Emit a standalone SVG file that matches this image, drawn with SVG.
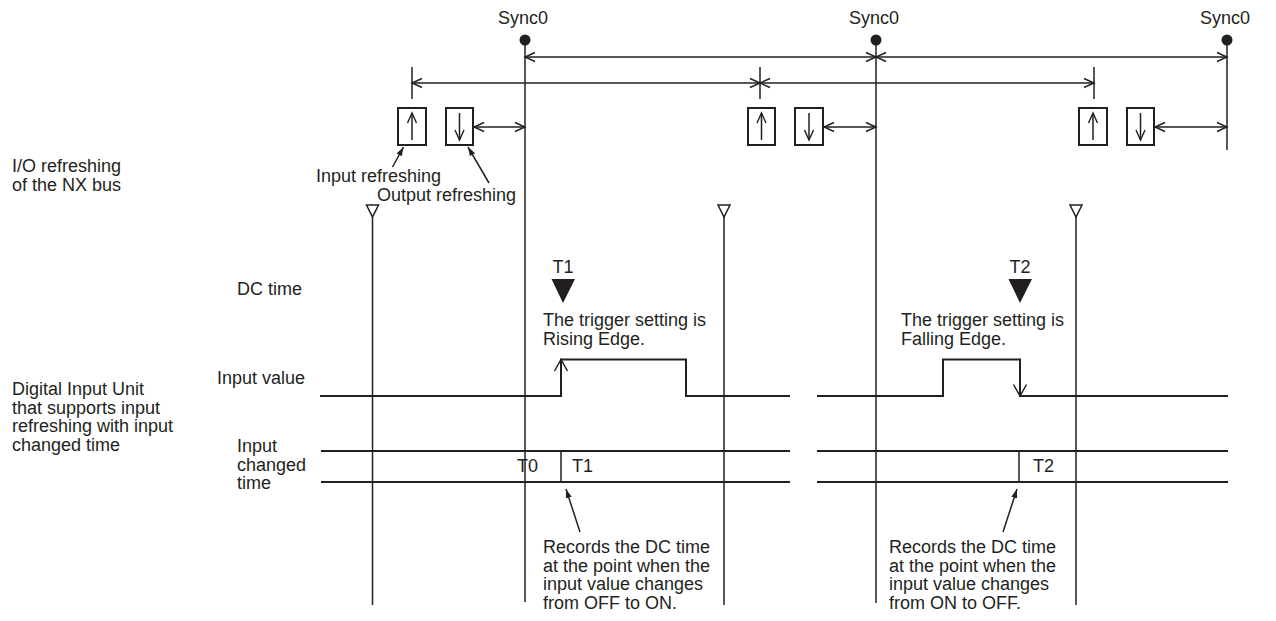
<svg xmlns="http://www.w3.org/2000/svg" width="1276" height="621" viewBox="0 0 1276 621">
<style>
text{font-family:"Liberation Sans",Arial,sans-serif;font-size:18px;fill:#231f20}
.ln{stroke:#231f20;stroke-width:1.5;fill:none}
.wv{stroke:#231f20;stroke-width:2;fill:none}
.bx{stroke:#231f20;stroke-width:2;fill:#fff}
.tri{stroke:#231f20;stroke-width:1.5;fill:#fff}
.mid{text-anchor:middle}
</style>
<defs>
<marker id="oa" viewBox="-1 -6 13 12" refX="10" refY="0" markerWidth="13" markerHeight="12" markerUnits="userSpaceOnUse" orient="auto-start-reverse">
<path d="M0,-4.5 L10,0 L0,4.5" fill="none" stroke="#231f20" stroke-width="1.4"/>
</marker>
<marker id="fa" viewBox="0 -4 10 8" refX="9" refY="0" markerWidth="10" markerHeight="8" markerUnits="userSpaceOnUse" orient="auto">
<path d="M0,-3 L9,0 L0,3 Z" fill="#231f20"/>
</marker>
</defs>
<rect width="1276" height="621" fill="#fff"/>

<g id="row-labels">
<text x="12" y="172">I/O refreshing</text>
<text x="12" y="191">of the NX bus</text>
<text x="237" y="295">DC time</text>
<text x="217" y="384">Input value</text>
<text x="12" y="395">Digital Input Unit</text>
<text x="12" y="413.5">that supports input</text>
<text x="12" y="432">refreshing with input</text>
<text x="12" y="450.5">changed time</text>
<text x="237" y="452">Input</text>
<text x="237" y="470.5">changed</text>
<text x="237" y="489">time</text>
</g>

<g id="sync0-1">
<text class="mid" x="523" y="24">Sync0</text>
<circle cx="525" cy="40" r="5.5" fill="#231f20"/>
<line class="ln" x1="525" y1="40" x2="525" y2="602"/>
</g>
<g id="sync0-2">
<text class="mid" x="874" y="24">Sync0</text>
<circle cx="876" cy="40" r="5.5" fill="#231f20"/>
<line class="ln" x1="876" y1="40" x2="876" y2="603"/>
</g>
<g id="sync0-3">
<text class="mid" x="1225" y="24">Sync0</text>
<circle cx="1227" cy="40" r="5.5" fill="#231f20"/>
<line class="ln" x1="1227" y1="40" x2="1227" y2="150"/>
</g>

<g id="ticks">
<line class="ln" x1="412" y1="67" x2="412" y2="99"/>
<line class="ln" x1="760" y1="67" x2="760" y2="99"/>
<line class="ln" x1="1094" y1="67" x2="1094" y2="99"/>
</g>

<g id="refresh-1">
<rect class="bx" x="398" y="108" width="28" height="37"/>
<line class="ln" x1="412" y1="140" x2="412" y2="113" marker-end="url(#oa)"/>
<rect class="bx" x="446" y="108" width="27" height="37"/>
<line class="ln" x1="459.5" y1="113" x2="459.5" y2="140" marker-end="url(#oa)"/>
</g>
<g id="refresh-2">
<rect class="bx" x="748" y="108" width="27" height="37"/>
<line class="ln" x1="761.5" y1="140" x2="761.5" y2="113" marker-end="url(#oa)"/>
<rect class="bx" x="795" y="108" width="28" height="37"/>
<line class="ln" x1="809" y1="113" x2="809" y2="140" marker-end="url(#oa)"/>
</g>
<g id="refresh-3">
<rect class="bx" x="1079" y="108" width="28" height="37"/>
<line class="ln" x1="1093" y1="140" x2="1093" y2="113" marker-end="url(#oa)"/>
<rect class="bx" x="1127" y="108" width="27" height="37"/>
<line class="ln" x1="1140.5" y1="113" x2="1140.5" y2="140" marker-end="url(#oa)"/>
</g>

<g id="refresh-labels">
<text x="316" y="182">Input refreshing</text>
<text x="377" y="201">Output refreshing</text>
</g>

<g id="dc-markers">
<polygon class="tri" points="366.5,205 378.5,205 372.5,217"/>
<line class="ln" x1="372.5" y1="217" x2="372.5" y2="605"/>
<polygon class="tri" points="718,205 730,205 724,217"/>
<line class="ln" x1="724" y1="217" x2="724" y2="605"/>
<polygon class="tri" points="1070,205 1082,205 1076,217"/>
<line class="ln" x1="1076" y1="217" x2="1076" y2="605"/>
</g>

<g id="trigger-1">
<text class="mid" x="563" y="273">T1</text>
<polygon points="551.5,279 575,279 563,303" fill="#231f20"/>
<text x="543" y="326">The trigger setting is</text>
<text x="543" y="345">Rising Edge.</text>
</g>
<g id="trigger-2">
<text class="mid" x="1020" y="273">T2</text>
<polygon points="1008.5,279 1032,279 1020,303" fill="#231f20"/>
<text x="901" y="326">The trigger setting is</text>
<text x="901" y="345">Falling Edge.</text>
</g>

<g id="input-value">
<path class="wv" d="M320,396 H561 V359.5 H686 V396 H790"/>
<path class="wv" d="M817,396 H943 V359.5 H1020 V396 H1228"/>
<path class="ln" d="M554.5,371 L561,359.5 L567.5,371"/>
<path class="ln" d="M1013.5,384.5 L1020,396 L1026.5,384.5"/>
</g>

<g id="input-changed-time">
<line class="wv" x1="321" y1="451" x2="790" y2="451"/>
<line class="wv" x1="321" y1="482" x2="790" y2="482"/>
<line class="wv" x1="817" y1="451" x2="1228" y2="451"/>
<line class="wv" x1="817" y1="482" x2="1228" y2="482"/>
<line class="ln" x1="561" y1="451" x2="561" y2="482"/>
<line class="ln" x1="1019" y1="451" x2="1019" y2="482"/>
<text x="517" y="472">T0</text>
<text x="572" y="472">T1</text>
<text x="1033" y="472">T2</text>
</g>

<g id="note-1">
<text x="543" y="553">Records the DC time</text>
<text x="543" y="571.5">at the point when the</text>
<text x="543" y="590">input value changes</text>
<text x="543" y="608.5">from OFF to ON.</text>
</g>
<g id="note-2">
<text x="889" y="553">Records the DC time</text>
<text x="889" y="571.5">at the point when the</text>
<text x="889" y="590">input value changes</text>
<text x="889" y="608.5">from ON to OFF.</text>
</g>

<g id="connectors">
<line class="ln" x1="525" y1="57" x2="876" y2="57" marker-start="url(#oa)" marker-end="url(#oa)"/>
<line class="ln" x1="876" y1="57" x2="1227" y2="57" marker-start="url(#oa)" marker-end="url(#oa)"/>
<line class="ln" x1="412" y1="83" x2="760" y2="83" marker-start="url(#oa)" marker-end="url(#oa)"/>
<line class="ln" x1="760" y1="83" x2="1094" y2="83" marker-start="url(#oa)" marker-end="url(#oa)"/>
<line class="ln" x1="474" y1="127" x2="525" y2="127" marker-start="url(#oa)" marker-end="url(#oa)"/>
<line class="ln" x1="824" y1="127" x2="876" y2="127" marker-start="url(#oa)" marker-end="url(#oa)"/>
<line class="ln" x1="1155" y1="127" x2="1227" y2="127" marker-start="url(#oa)" marker-end="url(#oa)"/>
<line class="ln" x1="392.5" y1="167" x2="403.5" y2="147" stroke-width="1.2" marker-end="url(#fa)"/>
<line class="ln" x1="489" y1="183" x2="468" y2="147" stroke-width="1.2" marker-end="url(#fa)"/>
<line class="ln" x1="580" y1="532" x2="566" y2="489" stroke-width="1.2" marker-end="url(#fa)"/>
<line class="ln" x1="1003" y1="532" x2="1017" y2="489" stroke-width="1.2" marker-end="url(#fa)"/>
</g>
</svg>
